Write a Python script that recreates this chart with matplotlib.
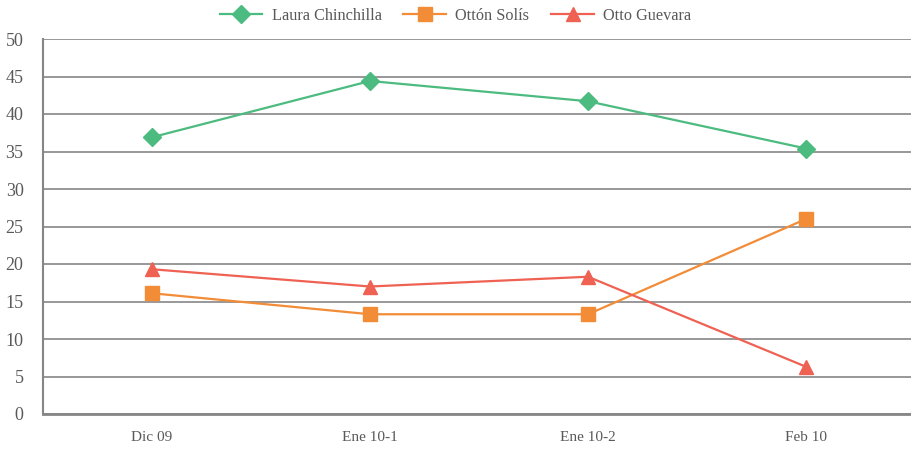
import numpy as np
import matplotlib.pyplot as plt

# data
periods = ['Dic 09', 'Ene 10-1', 'Ene 10-2', 'Feb 10']
chinchilla = [36.9, 44.4, 41.7, 35.4]
solis = [16.1, 13.3, 13.3, 26.0]
guevara = [19.3, 17.0, 18.3, 6.3]

plt.rcParams['font.family'] = ['Liberation Serif', 'DejaVu Serif']
txt = '#595959'
grid = '#868686'

fig = plt.figure(figsize=(9.11, 4.49), dpi=100)
ax = fig.add_axes([43/911, 35/449, 872/911, 375/449])

x = np.arange(len(periods))
ax.plot(x, chinchilla, color='#4cbb7f', lw=1.6, marker='D', ms=9, label='Laura Chinchilla')
ax.plot(x, solis, color='#f28c37', lw=1.6, marker='s', ms=10, label='Ottón Solís')
ax.plot(x, guevara, color='#ef6152', lw=1.6, marker='^', ms=10, label='Otto Guevara')

ax.set_xlim(-0.5, 3.5)
ax.set_ylim(0, 50)
ax.set_yticks(range(0, 51, 5))
ax.set_xticks(x)
ax.set_xticklabels(periods)
ax.yaxis.grid(True, color=grid, lw=1.2)
ax.set_axisbelow(True)
for s in ['top', 'right']:
    ax.spines[s].set_visible(False)
ax.spines['left'].set_color(grid)
ax.spines['left'].set_linewidth(1.5)
ax.spines['bottom'].set_color(grid)
ax.spines['bottom'].set_linewidth(2)
ax.tick_params(axis='both', length=0, colors=txt)
ax.tick_params(axis='y', labelsize=13, pad=14)
ax.tick_params(axis='x', labelsize=11, pad=12)

fig.legend(loc='upper center', bbox_to_anchor=(0.5, 1.015), ncol=3, frameon=False,
           fontsize=11.7, labelcolor=txt, handlelength=2.6, handletextpad=0.6,
           columnspacing=1.35)

fig.savefig('out.png', dpi=100)
